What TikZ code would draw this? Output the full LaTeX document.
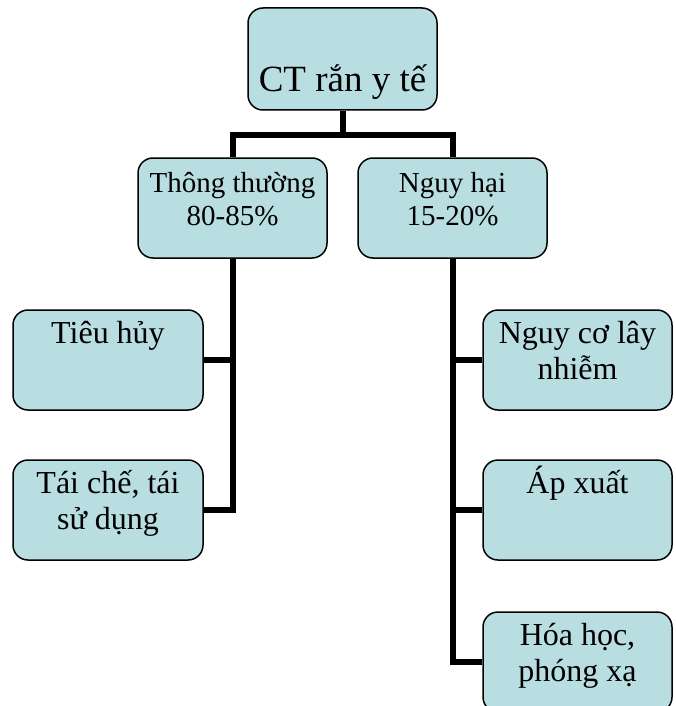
\documentclass[tikz,border=0pt]{standalone}
\usepackage{fontspec}
\setmainfont{Liberation Serif}
\definecolor{boxfill}{RGB}{185,222,226}
\tikzset{
  box/.style={draw=black, line width=1.5pt, fill=boxfill, rounded corners=15pt,
    minimum width=189pt, minimum height=100pt, inner sep=0pt},
  conn/.style={draw=black, line width=6pt, line join=miter},
  lbl/.style={anchor=base, align=center, inner sep=0pt},
  big/.style={font=\fontsize{37}{40}\selectfont},
  mid/.style={font=\fontsize{29}{33}\selectfont},
  small/.style={font=\fontsize{32}{36}\selectfont},
}
\begin{document}
\begin{tikzpicture}[x=1pt,y=-1pt]
\useasboundingbox (0,0) rectangle (675,706);
\clip (0,0) rectangle (675,706);

% boxes
\node[box, minimum height=102pt] (top) at (342.5,59) {};
\node[box] (thuong) at (232.5,208) {};
\node[box] (hai) at (452.5,208) {};
\node[box, minimum width=190pt] (tieu) at (108,360) {};
\node[box, minimum width=190pt] (taiche) at (108,510) {};
\node[box] (lay) at (577.5,360) {};
\node[box] (apxuat) at (577.5,510) {};
\node[box] (hoa) at (577.5,662) {};

% tree connectors
\coordinate (j0) at (342.5,135);
\draw[conn] (top.south) -- (j0);
\draw[conn] (thuong.north) |- (j0) -| (hai.north);
\draw[conn] (thuong.south) |- (taiche.east);
\draw[conn] (tieu.east) -- (thuong.south |- tieu.east);
\draw[conn] (hai.south) |- (hoa.west);
\draw[conn] (lay.west) -- (hai.south |- lay.west);
\draw[conn] (apxuat.west) -- (hai.south |- apxuat.west);

% labels (anchor base sits on the last line)
\node[lbl, big] (t0) at (342.5,92) {CT rắn y tế};
\node[lbl, mid] (t1) at (232.5,225) {Thông thường\\80-85\%};
\node[lbl, mid] (t2) at (452.5,225) {Nguy hại\\15-20\%};
\node[lbl, small] (t3) at (108,343) {Tiêu hủy};
\node[lbl, small] (t4) at (108,529) {Tái chế, tái\\sử dụng};
\node[lbl, small] (t5) at (577.5,379) {Nguy cơ lây\\nhiễm};
\node[lbl, small] (t6) at (577.5,493) {Áp xuất};
\node[lbl, small] (t7) at (577.5,681) {Hóa học,\\phóng xạ};
\end{tikzpicture}
\end{document}
